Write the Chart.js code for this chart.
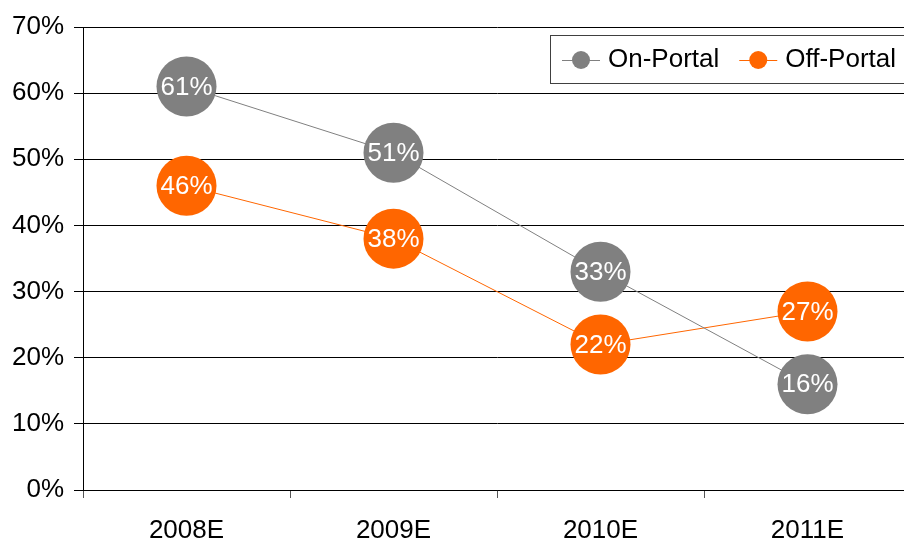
<!DOCTYPE html>
<html>
<head>
<meta charset="utf-8">
<script src="https://cdn.jsdelivr.net/npm/chart.js@4/dist/chart.umd.min.js"></script>
<style>
  html, body { margin: 0; padding: 0; background: #fff; overflow: hidden; }
  #wrap { width: 904px; height: 542px; overflow: hidden; }
</style>
</head>
<body>
<div id="wrap"><canvas id="portalChart" width="912" height="542"></canvas></div>
<script>
const years = ['2008E', '2009E', '2010E', '2011E'];
const onPortal = [61, 51, 33, 16];
const offPortal = [46, 38, 22, 27];
const yTicks = [0, 10, 20, 30, 40, 50, 60, 70];

const FONT = '"Liberation Sans", Arial, sans-serif';
const GREY = '#808080';
const ORANGE = '#ff6600';

// white percentage text centred in each big marker
const valueLabels = {
  id: 'valueLabels',
  afterDatasetsDraw(chart) {
    const ctx = chart.ctx;
    ctx.save();
    ctx.font = '26px ' + FONT;
    ctx.fillStyle = '#fff';
    ctx.textAlign = 'center';
    ctx.textBaseline = 'middle';
    chart.data.datasets.forEach((ds, i) => {
      chart.getDatasetMeta(i).data.forEach((pt, j) => {
        ctx.fillText(ds.data[j] + '%', pt.x, pt.y + 1);
      });
    });
    ctx.restore();
  }
};

// boxed legend sitting in the top right of the plot
const boxLegend = {
  id: 'boxLegend',
  afterDraw(chart) {
    const ctx = chart.ctx;
    const x0 = 550, y0 = 35, h = 48;
    ctx.save();
    ctx.fillStyle = '#fff';
    ctx.fillRect(x0, y0, 380, h);
    ctx.strokeStyle = '#404040';
    ctx.lineWidth = 1;
    ctx.strokeRect(x0 + 0.5, y0 + 0.5, 380, h);
    ctx.font = '26px ' + FONT;
    ctx.textBaseline = 'middle';
    const cy = y0 + h / 2 + 1;
    let x = x0 + 12;
    chart.data.datasets.forEach(ds => {
      ctx.strokeStyle = ds.borderColor;
      ctx.beginPath();
      ctx.moveTo(x, cy + 0.5);
      ctx.lineTo(x + 38, cy + 0.5);
      ctx.stroke();
      ctx.fillStyle = ds.backgroundColor;
      ctx.beginPath();
      ctx.arc(x + 19, cy, 9, 0, Math.PI * 2);
      ctx.fill();
      ctx.fillStyle = '#000';
      ctx.fillText(ds.label, x + 46, cy);
      x += 46 + ctx.measureText(ds.label).width + 20;
    });
    ctx.restore();
  }
};

new Chart(document.getElementById('portalChart').getContext('2d'), {
  type: 'line',
  data: {
    labels: years,
    datasets: [
      {
        label: 'On-Portal',
        data: onPortal,
        borderColor: GREY,
        backgroundColor: GREY,
        borderWidth: 1,
        pointRadius: 30,
        pointHoverRadius: 30,
        pointBorderWidth: 0,
        pointBackgroundColor: GREY
      },
      {
        label: 'Off-Portal',
        data: offPortal,
        borderColor: ORANGE,
        backgroundColor: ORANGE,
        borderWidth: 1,
        pointRadius: 30,
        pointHoverRadius: 30,
        pointBorderWidth: 0,
        pointBackgroundColor: ORANGE
      }
    ]
  },
  options: {
    responsive: false,
    animation: false,
    events: [],
    layout: {
      autoPadding: false, // big markers would otherwise shrink the plot
      padding: { top: 27, right: 1, left: 0, bottom: 0 }
    },
    plugins: {
      legend: { display: false },
      tooltip: { enabled: false }
    },
    scales: {
      x: {
        offset: true,
        grid: {
          offset: true,
          drawOnChartArea: false,
          tickLength: 8,
          color: '#555'
        },
        border: { color: '#000', width: 1 },
        ticks: {
          color: '#000',
          font: { family: FONT, size: 26 },
          padding: 17,
          maxRotation: 0
        },
        afterFit(scale) {
          scale.height = 52;
          scale.paddingLeft = 0;
          scale.paddingRight = 0;
        }
      },
      y: {
        min: 0,
        max: 70,
        afterBuildTicks(scale) {
          scale.ticks = yTicks.map(v => ({ value: v }));
        },
        grid: {
          color: '#000',
          lineWidth: 1,
          tickLength: 9
        },
        border: { color: '#000', width: 1 },
        ticks: {
          color: '#000',
          font: { family: FONT, size: 26 },
          padding: 10,
          callback: v => v + '%'
        },
        afterFit(scale) {
          scale.width = 83;
          scale.paddingTop = 0;
          scale.paddingBottom = 0;
        }
      }
    }
  },
  plugins: [valueLabels, boxLegend]
});
</script>
</body>
</html>
